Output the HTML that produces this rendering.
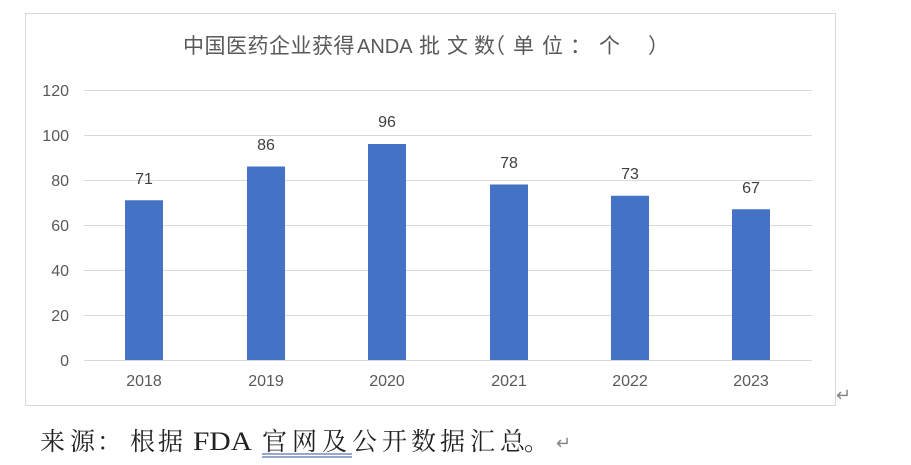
<!DOCTYPE html>
<html><head><meta charset="utf-8"><style>
body{margin:0;width:911px;height:465px;background:#fff;position:relative;overflow:hidden;font-family:"Liberation Sans","Noto Sans CJK SC",sans-serif}
</style></head><body>
<svg width="911" height="465" style="position:absolute;left:0;top:0">
<rect x="25.5" y="13.5" width="810" height="392" fill="#fff" stroke="#d9d9d9"/>
<g font-size="21" fill="#595959" font-family="Liberation Sans,Noto Sans CJK SC,sans-serif">
<text y="53" x="183 204.5 226 247.5 269 290.5 312 333.5">中国医药企业获得</text>
<text y="53" x="357" font-size="20">ANDA</text>
<text y="53" x="419 447 474">批文数</text>
<text y="53" x="484 513 542 570 599 648">（单位：个）</text>
</g>
<g stroke="#d9d9d9" stroke-width="1">
<line x1="84" x2="812" y1="90.5" y2="90.5"/><line x1="84" x2="812" y1="135.5" y2="135.5"/>
<line x1="84" x2="812" y1="180.5" y2="180.5"/><line x1="84" x2="812" y1="225.5" y2="225.5"/>
<line x1="84" x2="812" y1="270.5" y2="270.5"/><line x1="84" x2="812" y1="315.5" y2="315.5"/>
<line x1="84" x2="812" y1="360.5" y2="360.5"/>
</g>
<g font-size="16" fill="#595959" text-anchor="end">
<text x="69" y="96">120</text><text x="69" y="141">100</text><text x="69" y="186">80</text>
<text x="69" y="231">60</text><text x="69" y="276">40</text><text x="69" y="321">20</text><text x="69" y="366">0</text>
</g>
<g fill="#4472c4">
<rect x="125" y="200.25" width="38" height="159.75"/>
<rect x="247" y="166.5" width="38" height="193.5"/>
<rect x="368" y="144" width="38" height="216"/>
<rect x="490" y="184.5" width="38" height="175.5"/>
<rect x="611" y="195.75" width="38" height="164.25"/>
<rect x="732" y="209.25" width="38" height="150.75"/>
</g>
<g font-size="16" fill="#404040" text-anchor="middle">
<text x="144" y="184">71</text><text x="266" y="150">86</text><text x="387" y="127">96</text>
<text x="509" y="168">78</text><text x="630" y="179">73</text><text x="751" y="193">67</text>
</g>
<g font-size="16" fill="#595959" text-anchor="middle">
<text x="144" y="386">2018</text><text x="266" y="386">2019</text><text x="387" y="386">2020</text>
<text x="509" y="386">2021</text><text x="630" y="386">2022</text><text x="751" y="386">2023</text>
</g>
<text x="836" y="401" font-size="18" fill="#888">↵</text>
<g font-size="25" fill="#222" font-family="Liberation Serif,Noto Serif CJK SC,serif">
<text y="450" x="40 70 97 130 158">来源：根据</text>
<text y="450" x="193" font-size="26" textLength="59" lengthAdjust="spacingAndGlyphs">FDA</text>
<text y="450" x="262 292 322 352 382 411 440 470 500 524">官网及公开数据汇总。</text>
<text y="449" x="556" font-size="18" fill="#888">↵</text>
</g>
<line x1="262" x2="352" y1="454" y2="454" stroke="#2f5597" stroke-width="1"/>
<line x1="262" x2="352" y1="457" y2="457" stroke="#2f5597" stroke-width="1"/>
</svg>
</body></html>
